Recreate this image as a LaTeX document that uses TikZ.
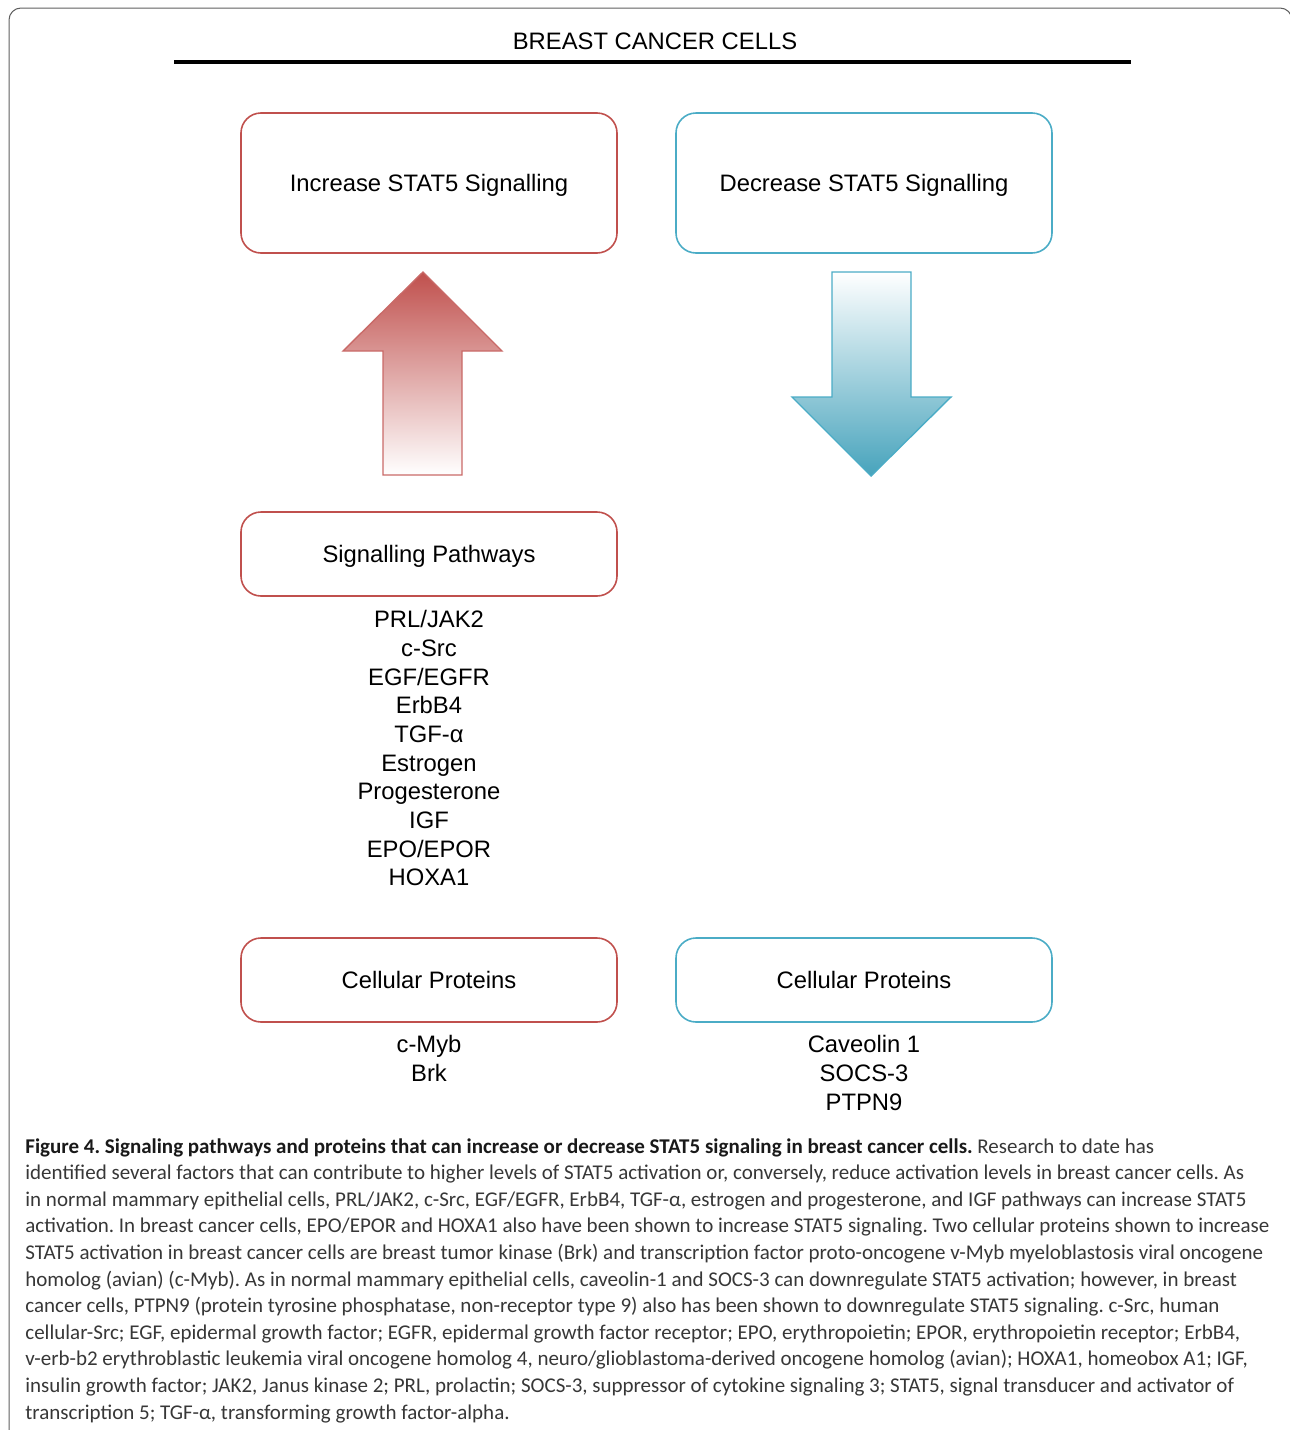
\documentclass[tikz,border=0pt]{standalone}
\usepackage{fontspec}
\setmainfont{Liberation Sans}
\newfontfamily\capfont{Carlito}
\usetikzlibrary{positioning}

\definecolor{upred}{RGB}{192,80,77}
\definecolor{downblue}{RGB}{75,172,198}
\definecolor{framegray}{RGB}{95,95,95}
\definecolor{captext}{RGB}{55,55,55}

\begin{document}
\begin{tikzpicture}[x=0.5pt,y=-0.5pt,
main font/.style={font=\fontsize{11.9}{14.35}\selectfont},
red box/.style={main font,draw=upred,line width=0.8pt,rounded corners=10pt,minimum width=188pt,text depth=0pt},
blue box/.style={red box,draw=downblue},
big box/.style={minimum height=70pt},
small box/.style={minimum height=42pt},
list text/.style={main font,align=center,inner sep=0pt,anchor=north}]

\useasboundingbox (0,0) rectangle (1290,1430);

% frame
\begin{scope}
\clip (0,0) rectangle (1290,1430);
\draw[framegray,line width=0.5pt,rounded corners=6pt] (9,8) rectangle (1292,1470);
\end{scope}

% heading
\node[main font] (title) at (655,41) {BREAST CANCER CELLS};
\coordinate (ruleL) at (174,62);
\coordinate (ruleR) at (1131,62);
\draw[line width=2pt] (ruleL) -- (ruleR);

% top boxes
\node[red box,big box] (inc) at (429,183) {Increase STAT5 Signalling};
\node[blue box,big box] (dec) at (864,183) {Decrease STAT5 Signalling};

% block arrows
\shadedraw[draw=upred!85,line width=0.7pt,top color=upred,middle color=upred!40,bottom color=white]
(383,475) -- (383,351) -- (343,351) -- (423,272) -- (502,351) -- (462,351) -- (462,475) -- cycle;
\shadedraw[draw=downblue,line width=0.7pt,top color=white,middle color=downblue!45,bottom color=downblue!95!black]
(832,272) -- (832,397) -- (792,397) -- (871,476) -- (951,397) -- (911,397) -- (911,272) -- cycle;

% lower boxes
\node[red box,small box] (sigp) at (429,554) {Signalling Pathways};
\node[red box,small box] (cpu) at (429,980) {Cellular Proteins};
\node[blue box,small box] (cpd) at (864,980) {Cellular Proteins};

% lists
\node[list text] (sigl) at (429,610) {PRL/JAK2\\c-Src\\EGF/EGFR\\ErbB4\\TGF-α\\Estrogen\\Progesterone\\IGF\\EPO/EPOR\\HOXA1};
\node[list text] (cpul) at (429,1035) {c-Myb\\Brk};
\node[list text] (cpdl) at (864,1035) {Caveolin 1\\SOCS-3\\PTPN9};

% caption
\node[anchor=north west,align=left,inner sep=0pt,text=captext,
font=\capfont\frenchspacing\fontsize{10.5}{13.3}\selectfont] (cap) at (25,1138)
{\textbf{\color{black!90}Figure 4. Signaling pathways and proteins that can increase or decrease STAT5 signaling in breast cancer cells.} Research to date has\\
identified several factors that can contribute to higher levels of STAT5 activation or, conversely, reduce activation levels in breast cancer cells. As\\
in normal mammary epithelial cells, PRL/JAK2, c-Src, EGF/EGFR, ErbB4, TGF-α, estrogen and progesterone, and IGF pathways can increase STAT5\\
activation. In breast cancer cells, EPO/EPOR and HOXA1 also have been shown to increase STAT5 signaling. Two cellular proteins shown to increase\\
STAT5 activation in breast cancer cells are breast tumor kinase (Brk) and transcription factor proto-oncogene v-Myb myeloblastosis viral oncogene\\
homolog (avian) (c-Myb). As in normal mammary epithelial cells, caveolin-1 and SOCS-3 can downregulate STAT5 activation; however, in breast\\
cancer cells, PTPN9 (protein tyrosine phosphatase, non-receptor type 9) also has been shown to downregulate STAT5 signaling. c-Src, human\\
cellular-Src; EGF, epidermal growth factor; EGFR, epidermal growth factor receptor; EPO, erythropoietin; EPOR, erythropoietin receptor; ErbB4,\\
v-erb-b2 erythroblastic leukemia viral oncogene homolog 4, neuro/glioblastoma-derived oncogene homolog (avian); HOXA1, homeobox A1; IGF,\\
insulin growth factor; JAK2, Janus kinase 2; PRL, prolactin; SOCS-3, suppressor of cytokine signaling 3; STAT5, signal transducer and activator of\\
transcription 5; TGF-α, transforming growth factor-alpha.};
\end{tikzpicture}
\end{document}
